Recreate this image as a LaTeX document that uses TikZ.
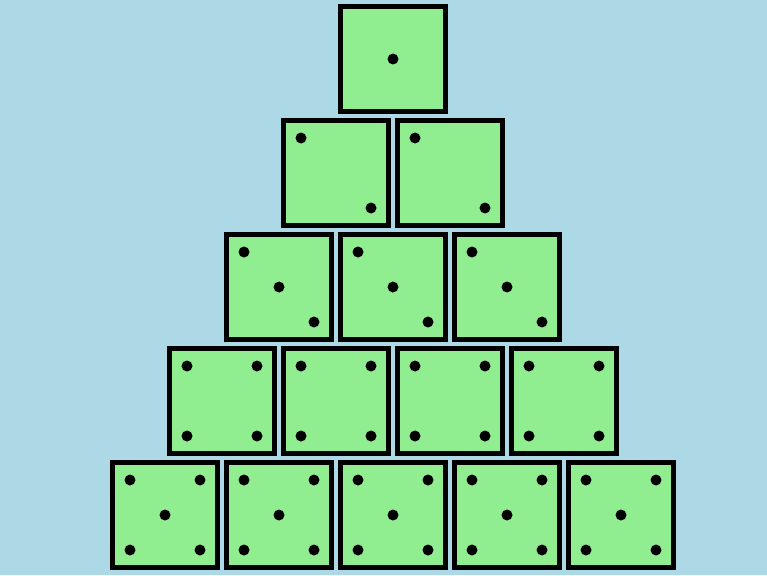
\documentclass[tikz,border=0pt]{standalone}
\definecolor{bgblue}{HTML}{ADD8E6}
\definecolor{diegreen}{HTML}{90EE90}
\begin{document}
\begin{tikzpicture}[x=1pt,y=-1pt,
  die/.style={draw=black,fill=diegreen,line width=5pt,minimum size=105pt,inner sep=0pt,outer sep=0pt},
  pip/.style={fill=black}]
\fill[bgblue] (0,0) rectangle (767,575);
\useasboundingbox (0,0) rectangle (767,575);
% row 1
\node[die] (r1a) at (393,59) {};
% row 2
\node[die] (r2a) at (336,173) {};
\node[die] (r2b) at (450,173) {};
% row 3
\node[die] (r3a) at (279,287) {};
\node[die] (r3b) at (393,287) {};
\node[die] (r3c) at (507,287) {};
% row 4
\node[die] (r4a) at (222,401) {};
\node[die] (r4b) at (336,401) {};
\node[die] (r4c) at (450,401) {};
\node[die] (r4d) at (564,401) {};
% row 5
\node[die] (r5a) at (165,515) {};
\node[die] (r5b) at (279,515) {};
\node[die] (r5c) at (393,515) {};
\node[die] (r5d) at (507,515) {};
\node[die] (r5e) at (621,515) {};
% pips
\fill[pip] (r1a.center) circle (5.5);
\foreach \d in {r2a,r2b}{
  \fill[pip] ([shift={(-35,-35)}]\d.center) circle (5.5);
  \fill[pip] ([shift={(35,35)}]\d.center) circle (5.5);
}
\foreach \d in {r3a,r3b,r3c}{
  \fill[pip] ([shift={(-35,-35)}]\d.center) circle (5.5);
  \fill[pip] (\d.center) circle (5.5);
  \fill[pip] ([shift={(35,35)}]\d.center) circle (5.5);
}
\foreach \d in {r4a,r4b,r4c,r4d}{
  \fill[pip] ([shift={(-35,-35)}]\d.center) circle (5.5);
  \fill[pip] ([shift={(35,-35)}]\d.center) circle (5.5);
  \fill[pip] ([shift={(-35,35)}]\d.center) circle (5.5);
  \fill[pip] ([shift={(35,35)}]\d.center) circle (5.5);
}
\foreach \d in {r5a,r5b,r5c,r5d,r5e}{
  \fill[pip] ([shift={(-35,-35)}]\d.center) circle (5.5);
  \fill[pip] ([shift={(35,-35)}]\d.center) circle (5.5);
  \fill[pip] (\d.center) circle (5.5);
  \fill[pip] ([shift={(-35,35)}]\d.center) circle (5.5);
  \fill[pip] ([shift={(35,35)}]\d.center) circle (5.5);
}
\end{tikzpicture}
\end{document}
